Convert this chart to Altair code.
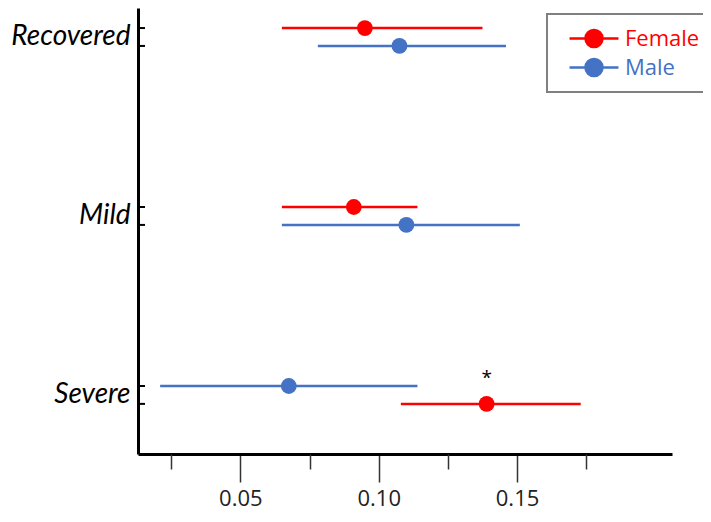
import altair as alt
import pandas as pd

# ---- data ----
categories = ["Recovered", "Mild", "Severe"]
female_mean = [0.095, 0.091, 0.139]
female_low = [0.065, 0.065, 0.108]
female_high = [0.1375, 0.114, 0.173]
male_mean = [0.1075, 0.110, 0.0675]
male_low = [0.078, 0.065, 0.021]
male_high = [0.146, 0.151, 0.114]
upper_series = ["Female", "Female", "Male"]  # which series sits on the upper row
female_sig = ["", "", "*"]
male_sig = ["", "", ""]
x_major = [0.05, 0.10, 0.15]
x_minor = [0.025, 0.075, 0.125, 0.175]
series = ["Female", "Male"]
colors = ["#FF0000", "#4472C4"]

ROW_OFFSET = 0.05

rows = []
for i, cat in enumerate(categories):
    for sex, m, lo, hi, sig in [
        ("Female", female_mean[i], female_low[i], female_high[i], female_sig[i]),
        ("Male", male_mean[i], male_low[i], male_high[i], male_sig[i]),
    ]:
        pos = i - ROW_OFFSET if sex == upper_series[i] else i + ROW_OFFSET
        rows.append(dict(category=cat, sex=sex, mean=m, low=lo, high=hi, pos=pos, sig=sig))
df = pd.DataFrame(rows)

W, H = 534, 446
xscale = alt.Scale(domain=[0.013, 0.206], nice=False, zero=False)
yscale = alt.Scale(domain=[-0.162, 2.33], reverse=True, nice=False, zero=False)
cscale = alt.Scale(domain=series, range=colors)

label_expr = "[" + ",".join("'%s'" % c for c in categories) + "][datum.value]"
yaxis = alt.Axis(
    values=[0, 1, 2], labelExpr=label_expr, ticks=False, grid=False, title=None,
    labelFont="Lato", labelFontStyle="italic", labelFontSize=28, labelColor="black",
    labelPadding=8, domainColor="black", domainWidth=3,
)
x_major_axis = alt.Axis(
    orient="bottom", values=x_major, format=".2f", grid=False, title=None,
    tickSize=28, tickWidth=1.5, tickColor="#333333", labelFont="Open Sans",
    labelFontSize=22, labelColor="#222222", labelPadding=6,
    domainColor="black", domainWidth=3, labelFlush=False,
)
x_minor_axis = alt.Axis(
    orient="bottom", values=x_minor, labels=False, grid=False, title=None,
    tickSize=15, tickWidth=1.5, tickColor="#333333", domain=False,
)

# legend symbol: a short line through a dot (dot radius = 1 unit, line = +/-2.88 units)
symbol_path = "M-2.88,0H2.88M1,0A1,1,0,1,1,-1,0A1,1,0,1,1,1,0Z"
color_expr = "datum.value == 'Female' ? '%s' : '%s'" % (colors[0], colors[1])
legend = alt.Legend(
    title=None, orient="none", legendX=409, legendY=6,
    symbolType=symbol_path, symbolSize=289, symbolStrokeWidth=2.5,
    symbolStrokeColor=alt.ExprRef(color_expr),
    symbolFillColor=alt.ExprRef(color_expr),
    labelFont="Open Sans", labelFontSize=22, labelOffset=20,
    labelColor=alt.ExprRef(color_expr),
    strokeColor="#808080", padding=10, rowPadding=0, clipHeight=29, symbolOffset=26,
)

base = alt.Chart(df)
y_enc = alt.Y("pos:Q", scale=yscale, axis=yaxis)

err = base.mark_rule(strokeWidth=2.5).encode(
    x=alt.X("low:Q", scale=xscale, axis=x_major_axis),
    x2="high:Q",
    y=y_enc,
    color=alt.Color("sex:N", scale=cscale, legend=legend),
)
pts = base.mark_point(filled=True, size=250, opacity=1).encode(
    x=alt.X("mean:Q", scale=xscale, axis=x_minor_axis),
    y=y_enc,
    color=alt.Color("sex:N", scale=cscale, legend=legend),
)
yticks = base.mark_rule(color="black", strokeWidth=2).encode(
    x=alt.value(0), x2=alt.value(7), y=y_enc,
)
star = base.transform_filter("datum.sig != ''").mark_text(
    dy=-26, fontSize=19, font="Open Sans", color="black"
).encode(
    x=alt.X("mean:Q", scale=xscale, axis=None),
    y=y_enc,
    text="sig:N",
)

chart = (
    alt.layer(err, pts, yticks, star)
    .resolve_axis(x="independent")
    .properties(
        width=W, height=H,
        autosize=alt.AutoSizeParams(type="none"),
        padding={"left": 130, "top": 0, "right": 31, "bottom": 60},
    )
    .configure_view(stroke=None)
    .configure_legend(strokeWidth=2)
)

chart.save("out.html", embed_options={"renderer": "svg", "actions": False})
